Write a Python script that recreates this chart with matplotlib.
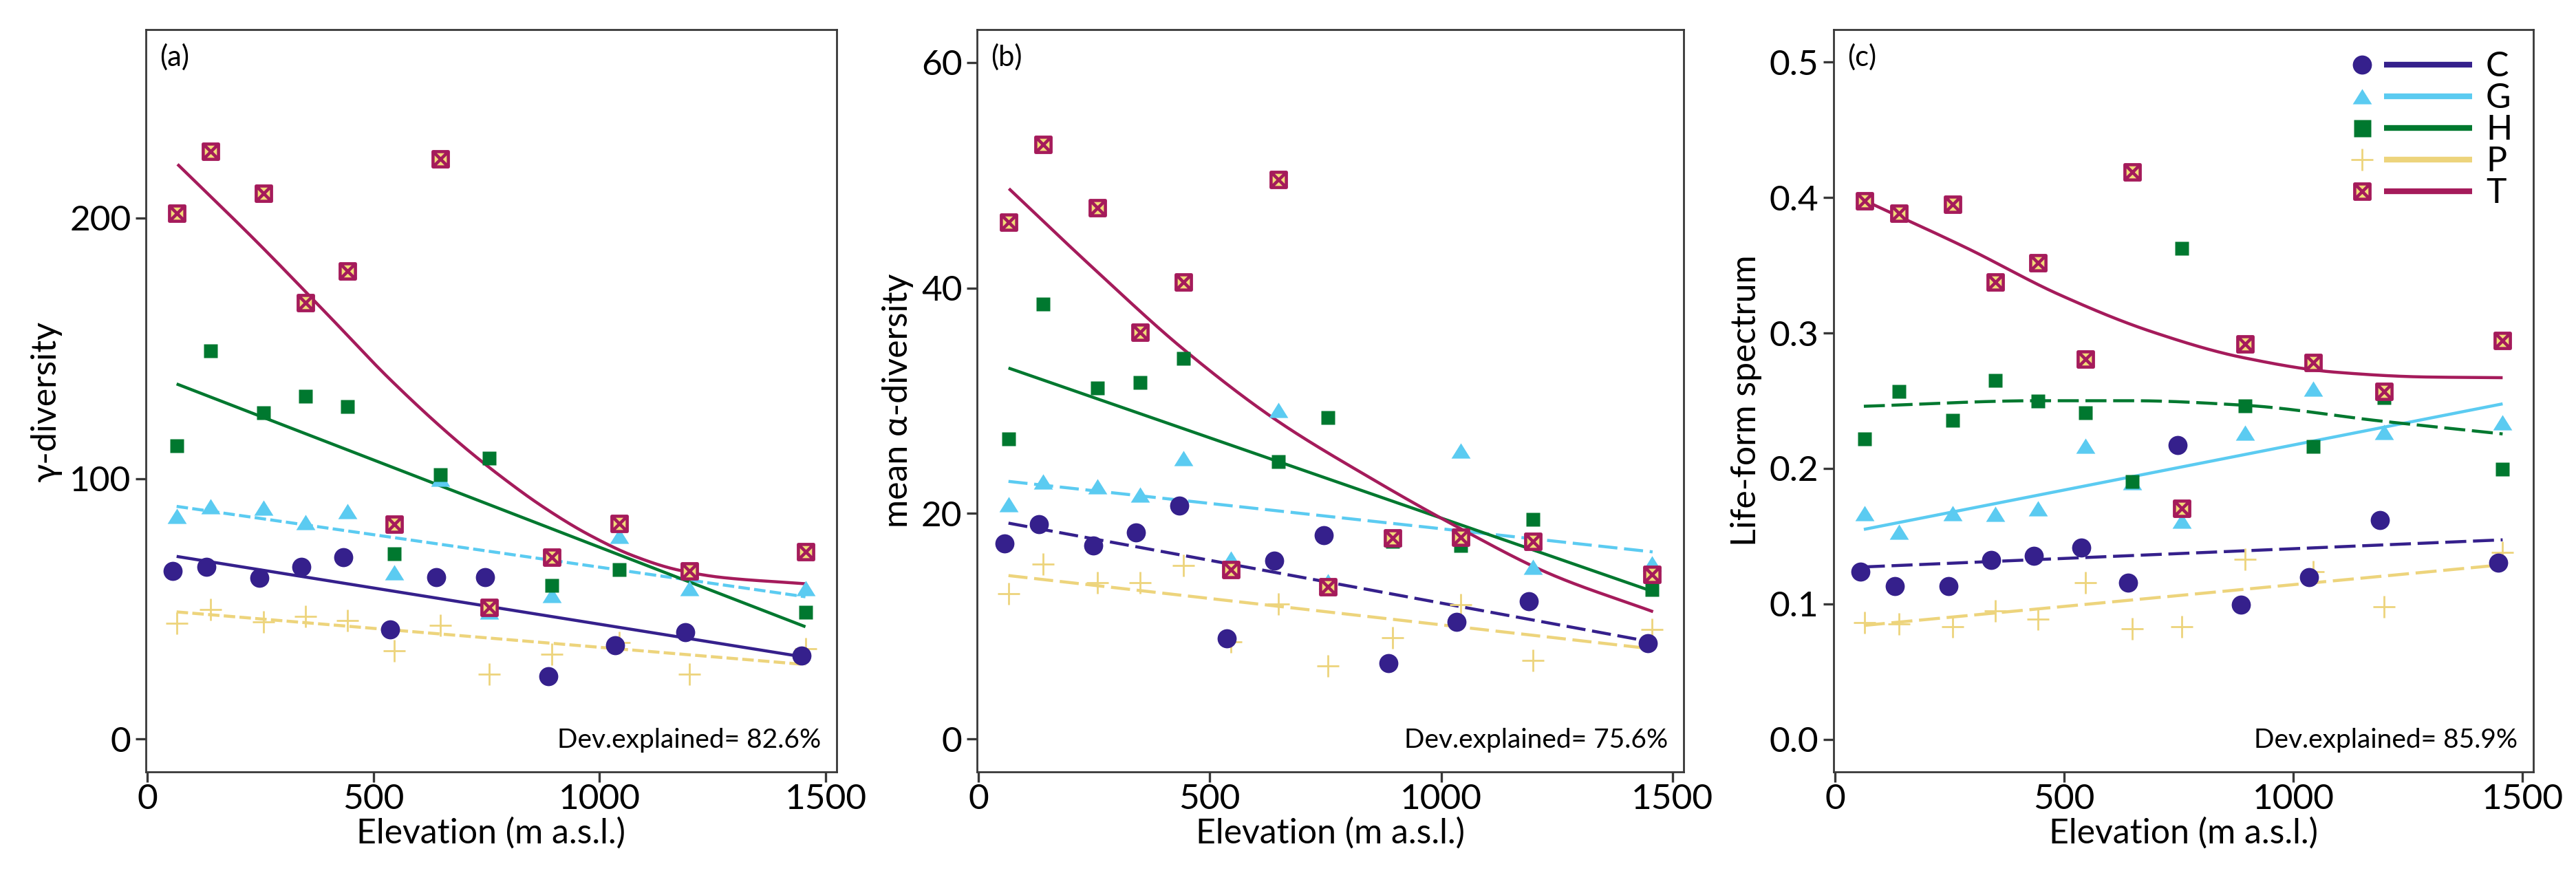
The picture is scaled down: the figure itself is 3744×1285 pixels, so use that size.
import numpy as np
import matplotlib
matplotlib.use("Agg")
import matplotlib.pyplot as plt
from matplotlib.lines import Line2D
from matplotlib.path import Path
from matplotlib.legend_handler import HandlerTuple

plt.rcParams['font.family'] = ['Lato', 'DejaVu Sans']
plt.rcParams['lines.scale_dashes'] = False

# ---------------- data ----------------
groups = ['C', 'G', 'H', 'P', 'T']
colors = {'C': '#35208C', 'G': '#5BCBF1', 'H': '#00782F', 'P': '#EDD47C', 'T': '#A51B5B'}

elevation = [65, 140, 257, 350, 443, 546, 648, 756, 895, 1043, 1198, 1456]

# (a) gamma diversity
gamma_C = [64.5, 66.2, 61.9, 66.2, 69.7, 42.0, 62.1, 62.1, 24.0, 36.1, 41.1, 32.0]
gamma_G = [85.5, 89.4, 88.7, 83.3, 87.4, 63.9, 100.0, 49.0, 55.2, 77.9, 58.0, 57.8]
gamma_H = [112.6, 149.1, 125.1, 131.6, 127.5, 71.0, 101.5, 107.8, 58.9, 64.9, 64.5, 48.7]
gamma_P = [44.4, 49.8, 45.0, 47.2, 45.5, 34.0, 43.7, 24.9, 32.5, 37.0, 24.9, 34.6]
gamma_T = [201.7, 225.5, 209.5, 167.5, 179.7, 82.5, 222.7, 50.6, 69.7, 82.7, 64.5, 71.9]

# (b) mean alpha diversity
alpha_C = [17.35, 19.05, 17.15, 18.35, 20.7, 8.95, 15.85, 18.05, 6.75, 10.4, 12.25, 8.5]
alpha_G = [20.85, 22.85, 22.4, 21.7, 24.9, 16.0, 29.2, 14.0, 17.8, 25.6, 15.25, 15.6]
alpha_H = [26.6, 38.55, 31.15, 31.6, 33.75, 14.9, 24.6, 28.5, 17.5, 17.15, 19.5, 13.25]
alpha_P = [12.9, 15.5, 13.9, 13.9, 15.4, 8.6, 12.0, 6.5, 9.0, 11.9, 7.0, 9.75]
alpha_T = [45.8, 52.7, 47.1, 36.05, 40.5, 15.0, 49.6, 13.5, 17.85, 17.9, 17.5, 14.6]

# (c) life-form spectrum
life_C = [0.124, 0.113, 0.113, 0.1325, 0.1357, 0.1416, 0.1155, 0.217, 0.0993, 0.1198, 0.1618, 0.1302]
life_G = [0.167, 0.1534, 0.167, 0.1666, 0.1705, 0.2166, 0.190, 0.1614, 0.2266, 0.2591, 0.2268, 0.2341]
life_H = [0.2216, 0.2568, 0.2357, 0.2652, 0.2495, 0.2409, 0.1902, 0.3625, 0.2461, 0.2164, 0.2523, 0.1995]
life_P = [0.0864, 0.0852, 0.0834, 0.0948, 0.0886, 0.1159, 0.0818, 0.083, 0.133, 0.124, 0.0977, 0.138]
life_T = [0.3977, 0.3886, 0.395, 0.3375, 0.3518, 0.2807, 0.4189, 0.1705, 0.292, 0.278, 0.2568, 0.2943]

# fitted model curves (elevation, fitted value)
fit_a_x_T = [67, 243, 390, 537, 684, 781, 879, 977, 1075, 1173, 1271, 1455]
fit_a_T = [220.6, 190.7, 164.5, 138.0, 114.5, 100.9, 88.65, 78.35, 70.3, 64.9, 62.0, 59.6]
fit_a_x_lin = [65, 1455]
fit_a_C = [70.1, 31.4]
fit_a_G = [89.3, 54.6]
fit_a_H = [136.3, 43.1]
fit_a_P = [48.8, 28.6]

fit_b_x_T = [66, 247, 445, 643, 841, 1040, 1238, 1458]
fit_b_T = [48.8, 41.8, 34.5, 28.3, 23.3, 18.7, 14.6, 11.3]
fit_b_x_lin = [65, 1457]
fit_b_C = [19.15, 8.6]
fit_b_G = [22.85, 16.6]
fit_b_H = [32.9, 13.1]
fit_b_P = [14.5, 8.0]

fit_c_x_T = [63, 289, 489, 690, 891, 1091, 1292, 1457]
fit_c_T = [0.398, 0.3625, 0.3284, 0.3011, 0.2818, 0.2711, 0.2675, 0.2670]
fit_c_x_H = [63, 444, 647, 896, 1186, 1457]
fit_c_H = [0.2459, 0.2500, 0.2500, 0.2466, 0.2352, 0.2255]
fit_c_x_lin = [63, 1457]
fit_c_C = [0.1273, 0.1473]
fit_c_G = [0.155, 0.2477]
fit_c_P = [0.0841, 0.1289]

dev_text = ['Dev.explained= 82.6%', 'Dev.explained= 75.6%', 'Dev.explained= 85.9%']
panel_tags = ['(a)', '(b)', '(c)']
ylabels = ['\u03b3-diversity', 'mean \u03b1-diversity', 'Life-form spectrum']

panels = [
    dict(points={'C': gamma_C, 'G': gamma_G, 'H': gamma_H, 'P': gamma_P, 'T': gamma_T},
         fits={'C': (fit_a_x_lin, fit_a_C, 'solid'), 'G': (fit_a_x_lin, fit_a_G, 'dash'),
               'H': (fit_a_x_lin, fit_a_H, 'solid'), 'P': (fit_a_x_lin, fit_a_P, 'dash'),
               'T': (fit_a_x_T, fit_a_T, 'solid')},
         ylim=(-12.6, 272.3), yticks=[0, 100, 200], fmt='{:.0f}', dash=(12, 4.5)),
    dict(points={'C': alpha_C, 'G': alpha_G, 'H': alpha_H, 'P': alpha_P, 'T': alpha_T},
         fits={'C': (fit_b_x_lin, fit_b_C, 'dash'), 'G': (fit_b_x_lin, fit_b_G, 'dash'),
               'H': (fit_b_x_lin, fit_b_H, 'solid'), 'P': (fit_b_x_lin, fit_b_P, 'dash'),
               'T': (fit_b_x_T, fit_b_T, 'solid')},
         ylim=(-2.9, 62.9), yticks=[0, 20, 40, 60], fmt='{:.0f}', dash=(20, 7)),
    dict(points={'C': life_C, 'G': life_G, 'H': life_H, 'P': life_P, 'T': life_T},
         fits={'C': (fit_c_x_lin, fit_c_C, 'dash'), 'G': (fit_c_x_lin, fit_c_G, 'solid'),
               'H': (fit_c_x_H, fit_c_H, 'dash'), 'P': (fit_c_x_lin, fit_c_P, 'dash'),
               'T': (fit_c_x_T, fit_c_T, 'solid')},
         ylim=(-0.024, 0.524), yticks=[0.0, 0.1, 0.2, 0.3, 0.4, 0.5], fmt='{:.1f}', dash=(22, 7)),
]


def pchip(x, y, xx):
    """Monotone cubic Hermite interpolation (Fritsch-Carlson) for smooth fitted curves."""
    x = np.asarray(x, float)
    y = np.asarray(y, float)
    h = np.diff(x)
    d = np.diff(y) / h
    n = len(x)
    m = np.zeros(n)
    m[0], m[-1] = d[0], d[-1]
    for k in range(1, n - 1):
        if d[k - 1] * d[k] <= 0:
            m[k] = 0.0
        else:
            w1 = 2 * h[k] + h[k - 1]
            w2 = h[k] + 2 * h[k - 1]
            m[k] = (w1 + w2) / (w1 / d[k - 1] + w2 / d[k])
    idx = np.clip(np.searchsorted(x, xx) - 1, 0, n - 2)
    t = (xx - x[idx]) / h[idx]
    h00 = 2 * t**3 - 3 * t**2 + 1
    h10 = t**3 - 2 * t**2 + t
    h01 = -2 * t**3 + 3 * t**2
    h11 = t**3 - t**2
    return h00 * y[idx] + h10 * h[idx] * m[idx] + h01 * y[idx + 1] + h11 * h[idx] * m[idx + 1]


# custom markers
SQX = Path([(-1, -1), (1, -1), (1, 1), (-1, 1), (-1, -1),
            (-1, -1), (1, 1), (-1, 1), (1, -1)],
           [Path.MOVETO, Path.LINETO, Path.LINETO, Path.LINETO, Path.CLOSEPOLY,
            Path.MOVETO, Path.LINETO, Path.MOVETO, Path.LINETO])
TRI = Path([(0, 0.80), (-1, -0.80), (1, -0.80), (0, 0.80)],
           [Path.MOVETO, Path.LINETO, Path.LINETO, Path.CLOSEPOLY])

YELLOW = '#F2DC78'
C_DODGE = -9


def marker_kw(g):
    c = colors[g]
    if g == 'C':
        return dict(marker='o', ms=20, color=c, mec='none')
    if g == 'G':
        return dict(marker=TRI, ms=20, color=c, mec='none')
    if g == 'H':
        return dict(marker='s', ms=15, color=c, mec='none')
    if g == 'P':
        return dict(marker='+', ms=23.5, color=c, mew=2.0)
    return dict(marker=SQX, ms=16, mfc=YELLOW, mec=c, mew=3.3)


# ---------------- layout ----------------
W, H = 3744, 1285
fig = plt.figure(figsize=(W / 100, H / 100), dpi=100)
ax_px = [(212, 1004), (1420, 1027), (2665, 1017)]
top_px, bot_px = 43, 1122
ah = bot_px - top_px

spine_col = '#383838'

for i, p in enumerate(panels):
    l, w = ax_px[i]
    ax = fig.add_axes([l / W, 1 - bot_px / H, w / W, ah / H])
    ax.set_xlim(-3, 1524)
    ax.set_ylim(*p['ylim'])
    # fitted lines
    for g in groups:
        fx, fy, style = p['fits'][g]
        if len(fx) > 2:
            xx = np.linspace(fx[0], fx[-1], 400)
            yy = pchip(fx, fy, xx)
        else:
            xx, yy = fx, fy
        ln, = ax.plot(xx, yy, color=colors[g], lw=3.2, zorder=2, solid_capstyle='butt')
        if style == 'dash':
            ln.set_dashes(p['dash'])
            ln.set_dash_capstyle('butt')
    # points
    order = ['P', 'C', 'G', 'H', 'T']
    for k, g in enumerate(order):
        xs = np.array(elevation, float) + (C_DODGE if g == 'C' else 0)
        ax.plot(xs, p['points'][g], ls='none', zorder=3 + k * 0.2, **marker_kw(g))

    ax.set_xticks([0, 500, 1000, 1500])
    ax.set_yticks(p['yticks'])
    ax.set_yticklabels([p['fmt'].format(v) for v in p['yticks']])
    ax.tick_params(axis='both', labelsize=37, length=10.5, width=2.4, color=spine_col,
                   direction='out')
    ax.tick_params(axis='x', pad=2)
    ax.tick_params(axis='y', pad=5)
    for s in ax.spines.values():
        s.set_color(spine_col)
        s.set_linewidth(2.0)
    ax.set_xlabel('Elevation (m a.s.l.)', fontsize=36, labelpad=2)
    ax.set_ylabel(ylabels[i], fontsize=36, labelpad=8)
    ax.text(20 / w, 1 - 20 / ah, panel_tags[i], transform=ax.transAxes,
            fontsize=30, ha='left', va='top')
    ax.text(1 - 23 / w, 35 / ah, dev_text[i], transform=ax.transAxes,
            fontsize=28, ha='right', va='baseline')

    if i == 2:
        handles = []
        for g in groups:
            kw = marker_kw(g)
            if g == 'H':
                kw['ms'] = 18
            m = Line2D([], [], ls='none', **kw)
            seg = Line2D([], [], color=colors[g], lw=6, solid_capstyle='butt')
            handles.append((m, seg, seg))
        ax.legend(handles, groups, loc='upper left', bbox_to_anchor=(0.7237, 0.971),
                  frameon=False, fontsize=36, handlelength=3.84, handletextpad=0.4,
                  labelspacing=0.0, borderpad=0, borderaxespad=0,
                  handler_map={tuple: HandlerTuple(ndivide=None, pad=0)})

fig.savefig('out.png', dpi=100)
